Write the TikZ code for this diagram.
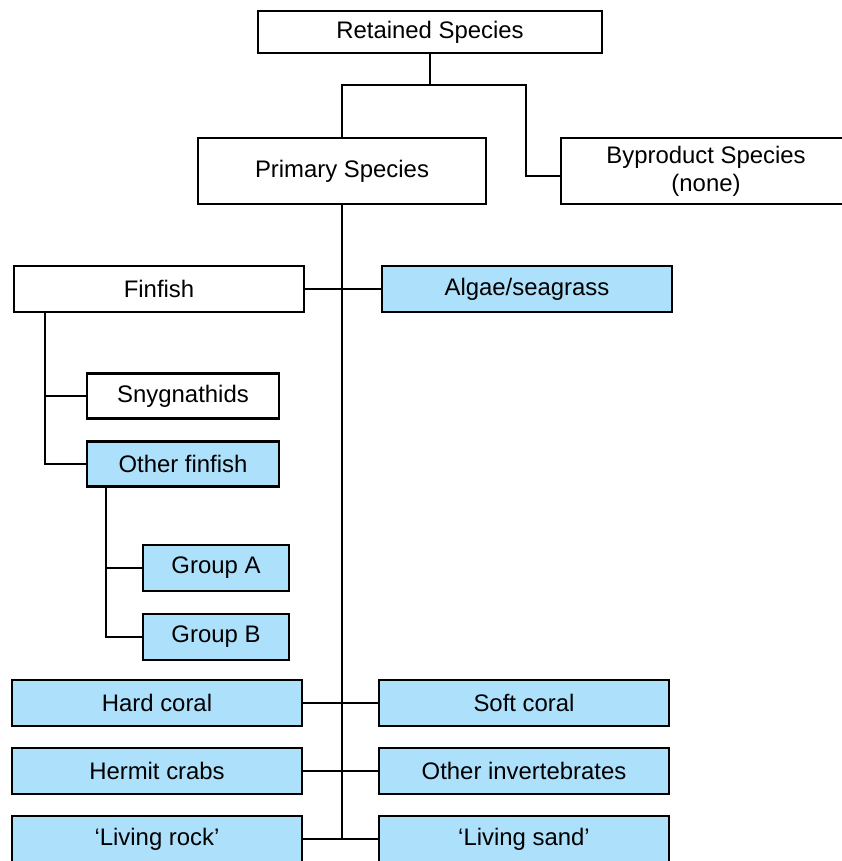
\documentclass[tikz,border=0pt]{standalone}
\usepackage{fontspec}
\setmainfont{Liberation Sans}
\usetikzlibrary{calc}
\definecolor{boxblue}{RGB}{173,224,250}

\begin{document}
\begin{tikzpicture}[x=1pt, y=-1pt, line width=2.2pt,
    plainbox/.style={draw, fill=white, minimum width=290pt, minimum height=46pt,
        inner sep=0pt, align=center, font=\fontsize{23.9}{28}\selectfont},
    bluebox/.style={plainbox, fill=boxblue}]

\useasboundingbox (0,0) rectangle (842,861);

\node[plainbox, minimum width=344pt, minimum height=42pt] (ret) at (430,32) {Retained Species};
\node[plainbox, minimum width=288pt, minimum height=66pt] (prim) at (342,171) {Primary Species};
\node[plainbox, minimum width=290pt, minimum height=66pt] (byp) at (706,171) {Byproduct Species\\(none)};

\node[plainbox] (fin) at (159,289) {Finfish};
\node[bluebox] (alg) at (527,289) {Algae/seagrass};
\node[plainbox, minimum width=192pt, minimum height=45pt] (syn) at (183,396) {Snygnathids};
\node[bluebox, minimum width=192pt, minimum height=45pt] (oth) at (183,464) {Other finfish};
\node[bluebox, minimum width=146pt] (grpa) at (216,568) {Group A};
\node[bluebox, minimum width=146pt] (grpb) at (216,637) {Group B};

\coordinate (split) at (430,85);
\coordinate (bend) at (526,176);
\draw (ret) -- (split);
\draw (prim.north) |- (split) -| (bend) -- (bend -| byp.west);

\foreach \left/\right/\lefttext/\righttext/\y in {hard/soft/Hard coral/Soft coral/703,
        crab/inv/Hermit crabs/Other invertebrates/771,
        rock/sand/‘Living rock’/‘Living sand’/839}{
    \node[bluebox] (\left) at (157,\y) {\lefttext};
    \node[bluebox] (\right) at (524,\y) {\righttext};
    \draw (\left) -- (\right);
}

\draw (prim.south) -- (prim.south |- rock.east);
\draw (fin) -- (alg);

\coordinate (finstem) at ($(fin.south west)+(32,0)$);
\coordinate (othstem) at ($(oth.south west)+(20,0)$);
\draw (finstem) |- (oth.west);
\draw (finstem |- syn.west) -- (syn.west);
\draw (othstem) |- (grpb.west);
\draw (othstem |- grpa.west) -- (grpa.west);

\end{tikzpicture}
\end{document}
